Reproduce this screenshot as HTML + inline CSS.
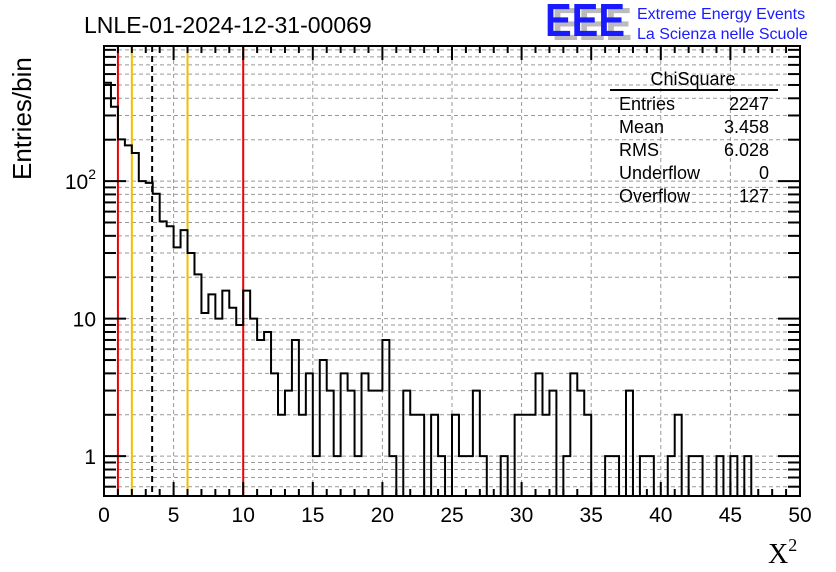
<!DOCTYPE html>
<html><head><meta charset="utf-8"><style>
body{margin:0;background:#fff;}
svg{display:block;font-family:"Liberation Sans",Arial,sans-serif;}
</style></head><body>
<svg id="c" width="836" height="572" xmlns="http://www.w3.org/2000/svg">
<rect x="0" y="0" width="836" height="572" fill="#fff"/>
<g id="grid"></g>
<g id="lines"></g>
<g id="hist"></g>
<g id="axes"></g>
<text x="84" y="33" font-size="23" fill="#000">LNLE-01-2024-12-31-00069</text>
<g>
<text x="552" y="40" font-size="46" font-weight="bold" fill="#bbb" textLength="80" lengthAdjust="spacingAndGlyphs">EEE</text>
<text x="545" y="36" font-size="46" font-weight="bold" fill="#1a1aff" textLength="80" lengthAdjust="spacingAndGlyphs">EEE</text>
<text x="637" y="19" font-size="16" fill="#1a1aff">Extreme Energy Events</text>
<text x="637" y="39" font-size="16" fill="#1a1aff">La Scienza nelle Scuole</text>
</g>
<g font-size="18" fill="#000">
<text x="693" y="85" text-anchor="middle">ChiSquare</text>
<line x1="610" y1="90" x2="778" y2="90" stroke="#000" stroke-width="2"/>
<text x="619" y="110">Entries</text><text x="769" y="110" text-anchor="end">2247</text>
<text x="619" y="133">Mean</text><text x="769" y="133" text-anchor="end">3.458</text>
<text x="619" y="156">RMS</text><text x="769" y="156" text-anchor="end">6.028</text>
<text x="619" y="179">Underflow</text><text x="769" y="179" text-anchor="end">0</text>
<text x="619" y="202">Overflow</text><text x="769" y="202" text-anchor="end">127</text>
</g>
<text transform="translate(31,180) rotate(-90)" font-size="26" fill="#000">Entries/bin</text>
<text x="768" y="563" font-size="28" font-family="Liberation Serif,serif" fill="#000">X<tspan font-size="18" dy="-12">2</tspan></text>
</svg>
<script>
const counts=[519,347,201,182,160,100,97,81,51,47,33,44,30,21,11,15,10,16,12,9,16,10,7,8,4,2,3,7,2,4,1,5,3,1,4,3,1,4,3,3,7,1,0,3,2,2,0,2,1,0,2,1,1,3,1,0,0,1,0,2,2,2,4,2,3,0,1,4,3,2,0,0,1,1,0,3,0,1,1,0,0,1,2,0,1,1,0,0,1,0,1,0,1,0,0,0,0,0,0,0];
const binWidth=0.5;
const xTicks=[0,5,10,15,20,25,30,35,40,45,50];
const yDecades=[1,10,100];
const yLabels=["1","10","10²"];
const refLines=[1,2,3.458,6,10];
const refColors=["#e00","#f0c000","#000","#f0c000","#e00"];
const X0=104,X1=800,Y0=496,Y1=46;
const yMin=0.5135,yMax=960;
const NS="http://www.w3.org/2000/svg";
function sx(v){return X0+(v-0)/(50-0)*(X1-X0);}
function sy(v){return Y0-(Math.log10(v)-Math.log10(yMin))/(Math.log10(yMax)-Math.log10(yMin))*(Y0-Y1);}
function mk(tag,attrs,parent){const e=document.createElementNS(NS,tag);for(const k in attrs)e.setAttribute(k,attrs[k]);parent.appendChild(e);return e;}
const grid=document.getElementById('grid'),axes=document.getElementById('axes'),hist=document.getElementById('hist'),lines=document.getElementById('lines');
// grid horizontal (log minor)
for(let d=0.1;d<=1000;d*=10){for(let m=1;m<10;m++){const v=Math.round(d*m*100)/100;if(v<yMin||v>yMax)continue;
const g=mk('line',{x1:X0,x2:X1,y1:sy(v),y2:sy(v),stroke:'#999','stroke-dasharray':'4,3','stroke-width':1},grid);


// ticks
const L=(m===1)?22:12;
const t1=mk('line',{x1:X0,x2:X0+L,y1:sy(v),y2:sy(v),stroke:'#000','stroke-width':2},axes);


const t2=mk('line',{x1:X1,x2:X1-L,y1:sy(v),y2:sy(v),stroke:'#000','stroke-width':2},axes);


}}
xTicks.forEach(v=>{if(v>0&&v<50){const g=mk('line',{x1:sx(v),x2:sx(v),y1:Y1,y2:Y0,stroke:'#999','stroke-dasharray':'4,3','stroke-width':1},grid);

}
const t=mk('text',{x:sx(v),y:522,'font-size':21,'text-anchor':'middle',fill:'#000'},axes);t.textContent=v;


});
for(let v=0;v<=50;v++){const L=(v%5===0)?14:7;
const a=mk('line',{x1:sx(v),x2:sx(v),y1:Y0,y2:Y0-L,stroke:'#000','stroke-width':2},axes);


const b=mk('line',{x1:sx(v),x2:sx(v),y1:Y1,y2:Y1+L,stroke:'#000','stroke-width':2},axes);

}
yDecades.forEach((v,i)=>{const t=mk('text',{x:96,y:sy(v)+8,'font-size':21,'text-anchor':'end',fill:'#000'},axes);
if(i===2){t.textContent='10';const s=mk('tspan',{'font-size':14,dy:-10},t);s.textContent='2';}else t.textContent=yLabels[i];

});
// reference lines
refLines.forEach((v,i)=>{const l=mk('line',{x1:sx(v),x2:sx(v),y1:Y1,y2:Y0,stroke:refColors[i],'stroke-width':2},lines);
if(i===2)l.setAttribute('stroke-dasharray','6,4');

});
// histogram
let d='',prevY=Y0;
counts.forEach((c,i)=>{const xa=sx(i*binWidth),xb=sx((i+1)*binWidth);const y=c>0?Math.min(Y0,sy(c)):Y0;
if(i===0)d+='M'+xa+','+y;else d+='L'+xa+','+y;d+='L'+xb+','+y;prevY=y;});
d+='L'+X1+','+Y0;
const p=mk('path',{d:d,fill:'none',stroke:'#000','stroke-width':2},hist);


const fr=mk('rect',{x:X0,y:Y1,width:X1-X0,height:Y0-Y1,fill:'none',stroke:'#000','stroke-width':2},axes);


</script>
</body></html>
